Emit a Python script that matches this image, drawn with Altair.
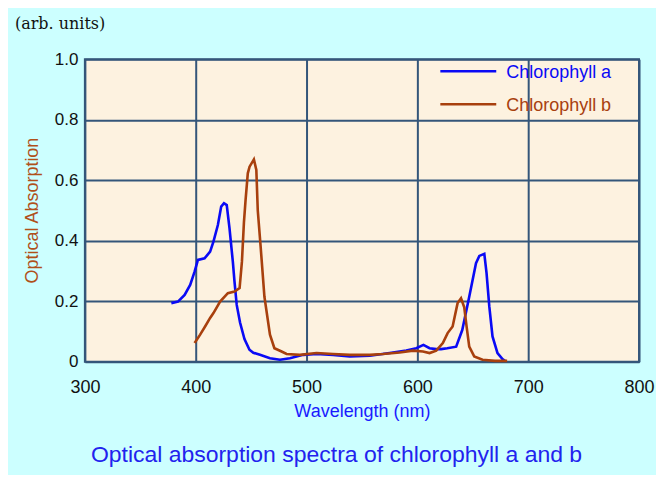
import altair as alt
import pandas as pd

# Chlorophyll a (blue)
wl_a = [378, 384, 390, 395, 399, 402, 408, 413, 416, 420, 423, 425.5, 428, 430.5,
        433.5, 435, 437, 440, 444, 448.5, 452, 458, 467, 476, 485, 497, 509, 524,
        539, 557, 575, 590, 599, 605.5, 611, 617, 621.4, 627, 635, 640.5, 646.8,
        652.9, 655.9, 660.4, 662.4, 664.9, 667.8, 672.3, 676.8, 679]
ab_a = [0.194, 0.199, 0.221, 0.254, 0.298, 0.337, 0.342, 0.364, 0.397, 0.452, 0.513,
        0.524, 0.518, 0.441, 0.331, 0.265, 0.188, 0.13, 0.075, 0.04, 0.03, 0.023,
        0.012, 0.007, 0.012, 0.023, 0.026, 0.023, 0.018, 0.02, 0.029, 0.037, 0.045,
        0.056, 0.045, 0.042, 0.042, 0.045, 0.05, 0.105, 0.215, 0.326, 0.35, 0.357,
        0.294, 0.183, 0.084, 0.029, 0.009, 0.003]

# Chlorophyll b (brown)
wl_b = [399, 404, 409, 413, 416, 419, 422, 429, 435, 439.6, 441.7, 443.5, 445, 447,
        448.6, 452.5, 454.7, 456, 458.6, 462, 467, 471, 477, 482, 494, 509, 524,
        539, 557, 569, 584, 596, 605, 611, 617, 623, 627.3, 631.8, 636.3, 639.4,
        642.3, 644.4, 646.8, 651.3, 658.8, 670, 681]
ab_b = [0.062, 0.09, 0.12, 0.145, 0.161, 0.18, 0.199, 0.227, 0.232, 0.244, 0.331,
        0.46, 0.535, 0.623, 0.645, 0.669, 0.634, 0.5, 0.38, 0.215, 0.09, 0.045,
        0.035, 0.026, 0.023, 0.029, 0.026, 0.023, 0.023, 0.026, 0.031, 0.037,
        0.034, 0.029, 0.037, 0.062, 0.095, 0.117, 0.194, 0.21, 0.18, 0.117, 0.05,
        0.018, 0.007, 0.003, 0.003]

series_names = ["Chlorophyll a", "Chlorophyll b"]
series_colors = ["#0A0AF5", "#A8400E"]
x_ticks = [300, 400, 500, 600, 700, 800]
y_ticks = [0, 0.2, 0.4, 0.6, 0.8, 1.0]

df = pd.concat([
    pd.DataFrame({"wl": wl_a, "ab": ab_a, "series": series_names[0]}),
    pd.DataFrame({"wl": wl_b, "ab": ab_b, "series": series_names[1]}),
])
one = pd.DataFrame({"k": [0]})

FONT = "Liberation Sans"
GRID = "#34567A"

lines = alt.Chart(df).mark_line(strokeWidth=2.6).encode(
    x=alt.X("wl:Q",
            scale=alt.Scale(domain=[300, 800], nice=False),
            axis=alt.Axis(values=x_ticks, title="Wavelength (nm)", grid=True,
                          gridColor=GRID, gridWidth=2, gridOpacity=1,
                          tickSize=0, domain=False, labelFontSize=18,
                          labelFont=FONT, labelColor="#111111", labelPadding=17,
                          labelFlush=False,
                          titleFont=FONT, titleFontSize=18, titleFontWeight="normal",
                          titleColor="#1A1AFF", titleY=50, titleBaseline="middle")),
    y=alt.Y("ab:Q",
            scale=alt.Scale(domain=[0, 1], nice=False),
            axis=alt.Axis(values=y_ticks, title="Optical Absorption", grid=True,
                          gridColor=GRID, gridWidth=2, gridOpacity=1,
                          tickSize=0, domain=False, labelFontSize=17,
                          labelFont=FONT, labelColor="#111111", labelPadding=7,
                          labelFlush=False,
                          labelExpr="datum.value == 0 ? '0' : format(datum.value, '.1f')",
                          titleFont=FONT, titleFontSize=18, titleFontWeight="normal",
                          titleColor="#B0501A", titleX=-52, titleY=151,
                          titleAlign="center", titleBaseline="middle")),
    color=alt.Color("series:N",
                    scale=alt.Scale(domain=series_names, range=series_colors),
                    legend=None),
    order=alt.Order("wl:Q"),
)

legend_layers = []
legend_y = [12, 45]
for name, col, ly in zip(series_names, series_colors, legend_y):
    legend_layers.append(
        alt.Chart(one).mark_rule(color=col, strokeWidth=2.6).encode(
            x=alt.value(356), x2=alt.value(412), y=alt.value(ly)))
    legend_layers.append(
        alt.Chart(one).mark_text(text=name, color=col, font=FONT, fontSize=18,
                                 align="left", baseline="middle").encode(
            x=alt.value(422), y=alt.value(ly + 2)))

arb = alt.Chart(one).mark_text(text="(arb. units)", font="DejaVu Serif", fontSize=16,
                               color="#111111", align="left", baseline="middle").encode(
    x=alt.value(-70), y=alt.value(-35))

subtitle = alt.Chart(one).mark_text(
    text="Optical absorption spectra of chlorophyll a and b", font=FONT,
    fontSize=23, color="#2222EE", align="center", baseline="middle").encode(
    x=alt.value(252), y=alt.value(396))

chart = alt.layer(lines, *legend_layers, arb, subtitle).properties(
    width=555, height=303,
    autosize=alt.AutoSizeParams(type="none"),
    padding={"left": 77, "top": 51, "right": 17, "bottom": 113},
    background="#CCFFFF",
).configure_view(stroke=GRID, strokeWidth=2, fill="#FDF2E0")

chart.save("out.html", embed_options={"renderer": "svg", "actions": False})
